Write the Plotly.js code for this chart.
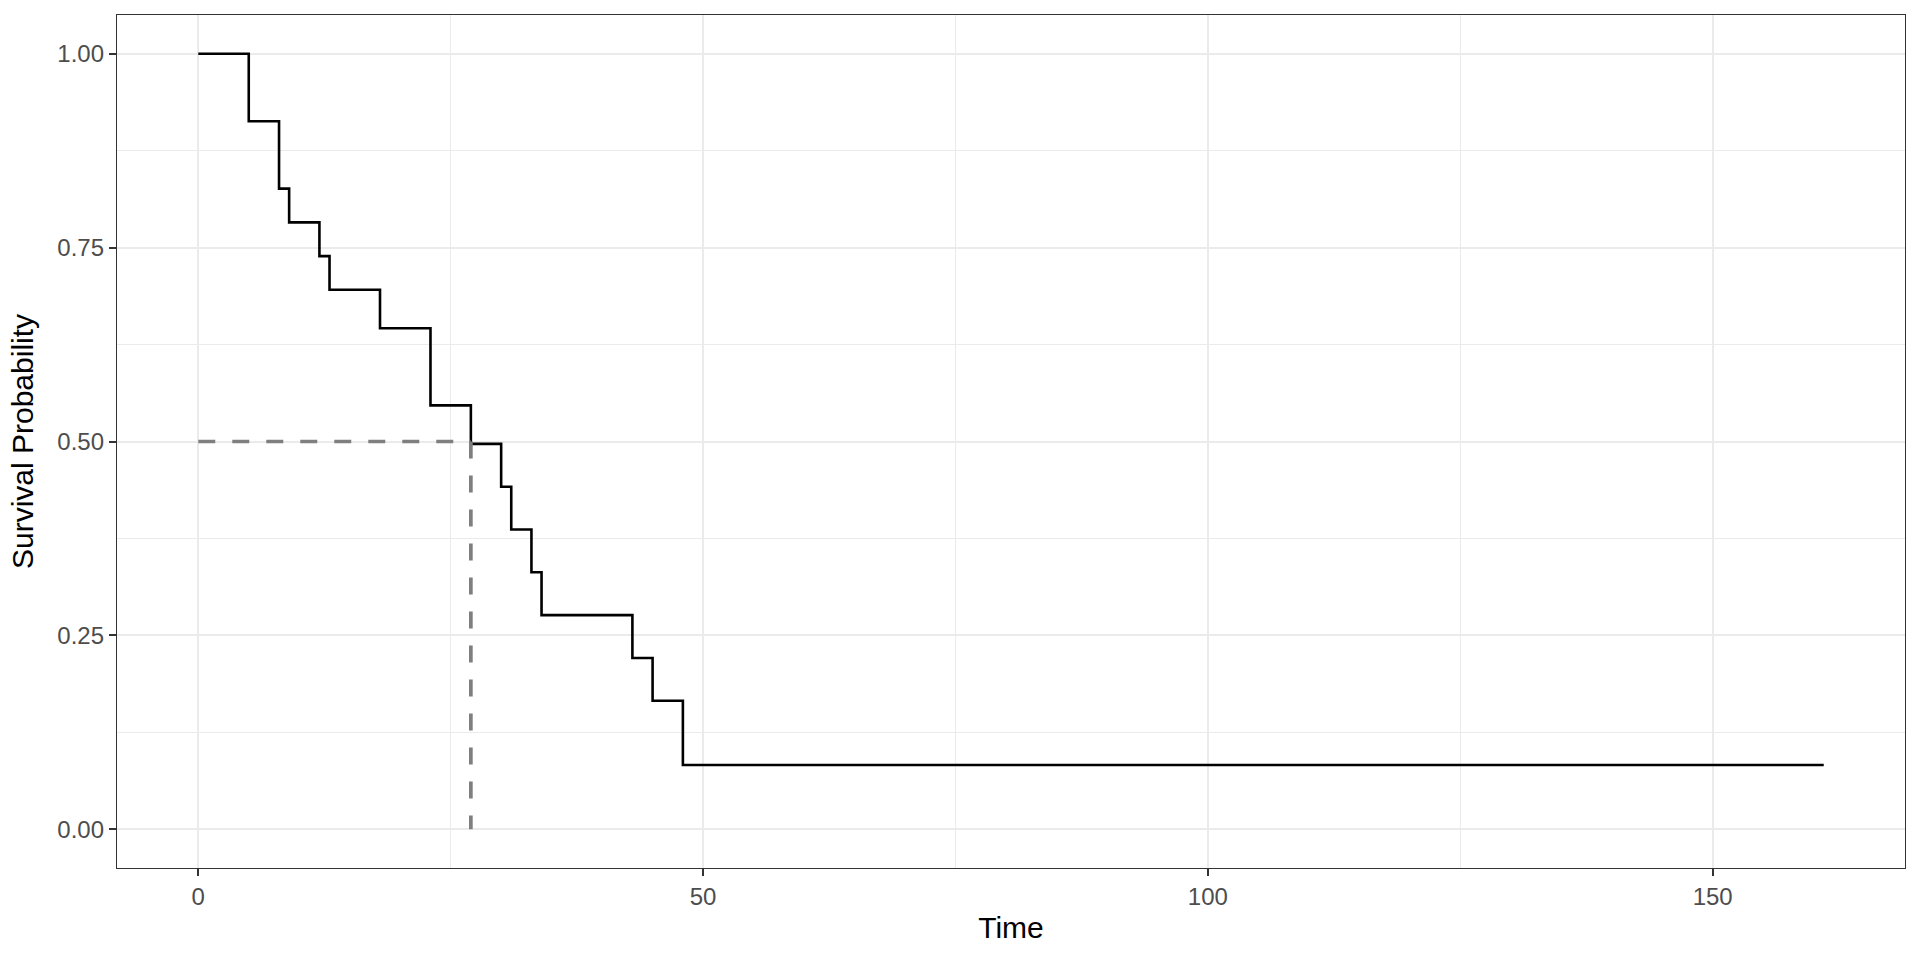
<!DOCTYPE html>
<html>
<head>
<meta charset="utf-8">
<script src="https://cdn.plot.ly/plotly-3.0.1.min.js"></script>
<style>
  html, body { margin: 0; padding: 0; background: #ffffff; }
  #chart { width: 1920px; height: 960px; }
</style>
</head>
<body>
<div id="chart"></div>
<script>
// Kaplan-Meier step curve (time, survival probability)
const times = [0, 5, 8, 9, 12, 13, 18, 23, 27, 30, 31, 33, 34, 43, 45, 48, 161];
const survival = [1.0, 0.9130, 0.8261, 0.7826, 0.7391, 0.6957, 0.6460, 0.5466, 0.4969,
                  0.4417, 0.3865, 0.3313, 0.2761, 0.2209, 0.1657, 0.0828, 0.0828];
// median survival reference
const medianTime = 27;
const medianSurv = 0.5;
// axis ticks
const xTicks = [0, 50, 100, 150];
const yTicks = [0, 0.25, 0.5, 0.75, 1.0];
const yTickLabels = ['0.00', '0.25', '0.50', '0.75', '1.00'];

const FONT = 'Liberation Sans, Arial, Helvetica, sans-serif';

const traces = [
  {
    x: times, y: survival, type: 'scatter', mode: 'lines',
    line: { shape: 'hv', color: '#000000', width: 2.6 },
    hoverinfo: 'skip', showlegend: false
  },
  {
    x: [0, medianTime], y: [medianSurv, medianSurv], type: 'scatter', mode: 'lines',
    line: { color: '#7F7F7F', width: 3.7, dash: '17px,17px' },
    hoverinfo: 'skip', showlegend: false
  },
  {
    x: [medianTime, medianTime], y: [medianSurv, 0], type: 'scatter', mode: 'lines',
    line: { color: '#7F7F7F', width: 3.7, dash: '17px,17px' },
    hoverinfo: 'skip', showlegend: false
  }
];

const axisCommon = {
  showgrid: true, gridcolor: '#EBEBEB', gridwidth: 2,
  zeroline: false,
  showline: true, mirror: true, linecolor: '#333333', linewidth: 1.2,
  ticks: 'outside', ticklen: 7, tickwidth: 2, tickcolor: '#333333',
  tickfont: { family: FONT, size: 24, color: '#4D4D4D' },
  fixedrange: true
};

const layout = {
  width: 1920, height: 960,
  margin: { l: 117, r: 15, t: 15, b: 92 },
  paper_bgcolor: '#FFFFFF', plot_bgcolor: '#FFFFFF',
  font: { family: FONT },
  xaxis: Object.assign({}, axisCommon, {
    range: [-8.05, 169.05],
    tickmode: 'array', tickvals: xTicks, ticktext: xTicks.map(String),
    minor: { tickmode: 'linear', tick0: 0, dtick: 25, showgrid: true, gridcolor: '#EBEBEB', gridwidth: 1, ticklen: 0 },
    title: { text: 'Time', font: { family: FONT, size: 30, color: '#000000' }, standoff: 8 }
  }),
  yaxis: Object.assign({}, axisCommon, {
    range: [-0.05, 1.05],
    tickmode: 'array', tickvals: yTicks, ticktext: yTickLabels,
    minor: { tickmode: 'linear', tick0: 0, dtick: 0.125, showgrid: true, gridcolor: '#EBEBEB', gridwidth: 1, ticklen: 0 },
    title: { text: 'Survival Probability', font: { family: FONT, size: 30, color: '#000000' }, standoff: 14 }
  })
};

Plotly.newPlot('chart', traces, layout, { displayModeBar: false, staticPlot: true });
</script>
</body>
</html>
